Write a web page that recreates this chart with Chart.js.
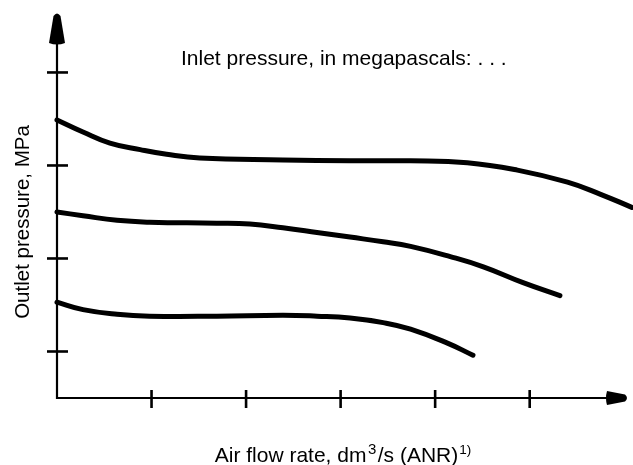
<!DOCTYPE html>
<html>
<head>
<meta charset="utf-8">
<script src="https://cdn.jsdelivr.net/npm/chart.js@4"></script>
<style>
html,body{margin:0;padding:0;background:#fff;}
#wrap{width:633px;height:465px;position:relative;}
</style>
</head>
<body>
<div id="wrap"><canvas id="c"></canvas></div>
<script>
// Air flow rate (arbitrary units; tick marks at 1..5)
const flowHigh = [0, 0.275, 0.56, 0.88, 1.16, 1.51, 2.39, 3.10, 3.74, 4.34, 4.87, 5.40, 5.75, 6.08];
const outletHigh = [2.99, 2.86, 2.74, 2.67, 2.62, 2.58, 2.56, 2.55, 2.55, 2.53, 2.45, 2.32, 2.19, 2.05];

const flowMid = [0, 0.275, 0.635, 0.98, 1.69, 2.04, 2.39, 2.75, 3.10, 3.45, 3.74, 4.16, 4.51, 4.93, 5.32];
const outletMid = [2.00, 1.96, 1.91, 1.89, 1.88, 1.87, 1.83, 1.78, 1.73, 1.68, 1.63, 1.52, 1.41, 1.24, 1.10];

const flowLow = [0, 0.275, 0.635, 0.98, 1.69, 2.39, 2.75, 3.10, 3.45, 3.74, 4.13, 4.40];
const outletLow = [1.03, 0.95, 0.90, 0.88, 0.88, 0.89, 0.88, 0.86, 0.81, 0.74, 0.59, 0.46];

const xTicks = [1, 2, 3, 4, 5];
const yTicks = [0.5, 1.5, 2.5, 3.5];

const titleText = "Inlet pressure, in megapascals: . . .";
const yTitle = "Outlet pressure, MPa";
const xTitleParts = [["Air flow rate, dm", 0], ["3", 1], ["/s (ANR)", 0], ["1)", 2]];

const toPts = (xs, ys) => xs.map((x, i) => ({x: x, y: ys[i]}));

const FONT = '"Liberation Sans", Arial, Helvetica, sans-serif';

const schematic = {
  id: 'schematic',
  beforeDatasetsDraw(chart) {
    const ctx = chart.ctx;
    const xs = chart.scales.x, ys = chart.scales.y;
    const x0 = xs.getPixelForValue(0), y0 = ys.getPixelForValue(0);
    const xEnd = xs.right, yEnd = ys.top;
    ctx.save();
    ctx.strokeStyle = '#000';
    ctx.fillStyle = '#000';
    ctx.lineCap = 'butt';
    ctx.lineWidth = 2.2;
    ctx.beginPath(); ctx.moveTo(x0, y0 + 1); ctx.lineTo(x0, yEnd + 20); ctx.stroke();
    ctx.lineWidth = 1.8;
    ctx.beginPath(); ctx.moveTo(x0 - 1, y0); ctx.lineTo(xEnd - 15, y0); ctx.stroke();
    // y arrow
    ctx.beginPath();
    ctx.moveTo(x0 - 8, yEnd + 31);
    ctx.lineTo(x0 - 3.5, yEnd + 4);
    ctx.quadraticCurveTo(x0, yEnd - 1, x0 + 3.5, yEnd + 4);
    ctx.lineTo(x0 + 8, yEnd + 31);
    ctx.quadraticCurveTo(x0, yEnd + 34, x0 - 8, yEnd + 31);
    ctx.fill();
    // x arrow
    ctx.beginPath();
    ctx.moveTo(xEnd - 21, y0 - 7);
    ctx.lineTo(xEnd - 3, y0 - 3.5);
    ctx.quadraticCurveTo(xEnd + 1, y0, xEnd - 3, y0 + 3.5);
    ctx.lineTo(xEnd - 21, y0 + 7);
    ctx.quadraticCurveTo(xEnd - 23, y0, xEnd - 21, y0 - 7);
    ctx.fill();
    ctx.lineWidth = 2.6;
    yTicks.forEach(v => {
      const p = ys.getPixelForValue(v);
      ctx.beginPath(); ctx.moveTo(x0 - 10, p); ctx.lineTo(x0 + 11, p); ctx.stroke();
    });
    xTicks.forEach(v => {
      const p = xs.getPixelForValue(v);
      ctx.beginPath(); ctx.moveTo(p, y0 - 8); ctx.lineTo(p, y0 + 10); ctx.stroke();
    });
    ctx.restore();
  },
  afterDraw(chart) {
    const ctx = chart.ctx;
    ctx.save();
    ctx.fillStyle = '#000';
    ctx.font = '21px ' + FONT;
    ctx.textAlign = 'left';
    ctx.textBaseline = 'alphabetic';
    ctx.fillText(titleText, 181, 65);
    ctx.save();
    ctx.translate(29, 222);
    ctx.rotate(-Math.PI / 2);
    ctx.textAlign = 'center';
    ctx.font = '20.5px ' + FONT;
    ctx.fillText(yTitle, 0, 0);
    ctx.restore();
    // x title with superscripts
    const fonts = ['21px ' + FONT, '15px ' + FONT, '13.5px ' + FONT];
    const lifts = [0, 8, 8];
    const gaps = [0, 1.5, 1];
    ctx.textAlign = 'left';
    let total = 0;
    xTitleParts.forEach(([t, k]) => { ctx.font = fonts[k]; total += ctx.measureText(t).width + 2 * gaps[k]; });
    let x = 343.5 - total / 2;
    xTitleParts.forEach(([t, k]) => {
      ctx.font = fonts[k];
      x += gaps[k];
      ctx.fillText(t, x, 462 - lifts[k]);
      x += ctx.measureText(t).width + gaps[k];
    });
    ctx.restore();
  }
};

const lineStyle = {
  borderColor: '#000',
  borderWidth: 5,
  pointRadius: 0,
  fill: false,
  tension: 0.45,
  borderCapStyle: 'round',
  borderJoinStyle: 'round',
  clip: false
};

new Chart(document.getElementById('c'), {
  type: 'line',
  data: {
    datasets: [
      Object.assign({label: 'high', data: toPts(flowHigh, outletHigh)}, lineStyle),
      Object.assign({label: 'mid', data: toPts(flowMid, outletMid)}, lineStyle),
      Object.assign({label: 'low', data: toPts(flowLow, outletLow)}, lineStyle)
    ]
  },
  options: {
    responsive: true,
    maintainAspectRatio: false,
    animation: false,
    layout: {padding: {left: 57, right: 5, top: 12, bottom: 67}},
    plugins: {legend: {display: false}, tooltip: {enabled: false}, title: {display: false}},
    scales: {
      x: {type: 'linear', min: 0, max: 6.04, display: false},
      y: {type: 'linear', min: 0, max: 4.15, display: false}
    }
  },
  plugins: [schematic]
});
</script>
</body>
</html>
